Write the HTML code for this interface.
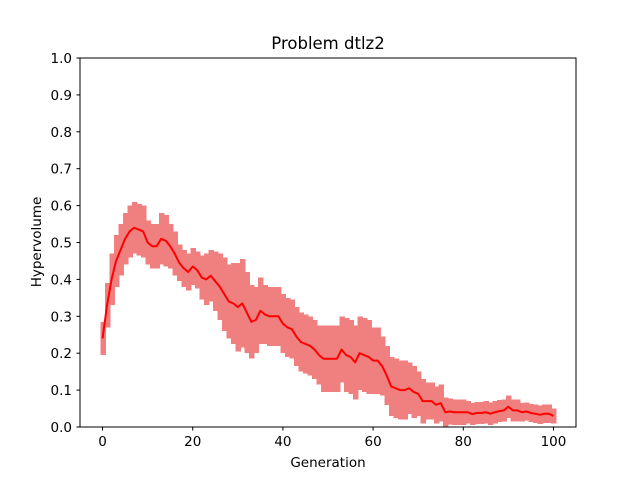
<!DOCTYPE html>
<html><head><meta charset="utf-8"><style>body{margin:0;background:#fff}svg{display:block;font-family:"DejaVu Sans",sans-serif}</style></head>
<body>
<svg id="chart" width="640" height="480" viewBox="0 0 640 480" xmlns="http://www.w3.org/2000/svg">
<rect width="640" height="480" fill="#fff"/>
<g id="bars" shape-rendering="crispEdges"></g>
<polyline id="mean" fill="none" stroke="#ff0000" stroke-width="2" stroke-linejoin="round"/>
<rect x="80" y="58" width="496" height="369" fill="none" stroke="#000" stroke-width="1"/>
<g id="xt"></g>
<g id="yt"></g>
<text x="328" y="49" font-size="16.5" text-anchor="middle">Problem dtlz2</text>
<text x="328" y="467" font-size="13.5" text-anchor="middle">Generation</text>
<text transform="translate(41,242) rotate(-90)" font-size="13.5" text-anchor="middle">Hypervolume</text>
</svg>
<script>
const meanVals=[0.24,0.33,0.40,0.45,0.48,0.51,0.53,0.54,0.535,0.53,0.50,0.49,0.49,0.51,0.505,0.49,0.47,0.445,0.43,0.42,0.435,0.425,0.405,0.40,0.41,0.395,0.38,0.36,0.34,0.335,0.325,0.335,0.31,0.285,0.29,0.315,0.305,0.30,0.30,0.30,0.28,0.27,0.265,0.245,0.23,0.225,0.22,0.21,0.195,0.185,0.185,0.185,0.185,0.21,0.195,0.19,0.175,0.20,0.195,0.19,0.18,0.18,0.165,0.14,0.11,0.105,0.10,0.10,0.105,0.095,0.09,0.07,0.07,0.07,0.06,0.065,0.04,0.042,0.04,0.04,0.04,0.04,0.035,0.038,0.038,0.04,0.036,0.04,0.043,0.045,0.055,0.045,0.045,0.04,0.042,0.038,0.036,0.033,0.036,0.036,0.03];
const errVals=[0.045,0.06,0.07,0.07,0.07,0.07,0.07,0.07,0.07,0.07,0.06,0.06,0.06,0.07,0.07,0.06,0.06,0.05,0.05,0.05,0.05,0.05,0.06,0.07,0.07,0.08,0.09,0.1,0.1,0.11,0.12,0.12,0.11,0.1,0.09,0.09,0.08,0.08,0.08,0.08,0.08,0.08,0.08,0.08,0.08,0.08,0.08,0.08,0.08,0.09,0.09,0.09,0.09,0.09,0.1,0.1,0.1,0.1,0.1,0.1,0.09,0.09,0.08,0.08,0.08,0.08,0.08,0.08,0.07,0.07,0.06,0.06,0.05,0.05,0.05,0.05,0.04,0.035,0.035,0.035,0.035,0.03,0.03,0.03,0.03,0.03,0.03,0.03,0.03,0.03,0.03,0.03,0.03,0.025,0.025,0.025,0.025,0.025,0.025,0.025,0.02];
const xTicks=[0,20,40,60,80,100];
const yTicks=[0.0,0.1,0.2,0.3,0.4,0.5,0.6,0.7,0.8,0.9,1.0];
const NS='http://www.w3.org/2000/svg';
const X=v=>80+(v+5)*496/110, Y=v=>427-v*369;
const bars=document.getElementById('bars');
const bw=496/110;
meanVals.forEach((m,i)=>{
 const r=document.createElementNS(NS,'rect');
 
 
 const lo=Math.max(0,m-errVals[i]),hi=m+errVals[i];
 r.setAttribute('x',X(i)-bw/2);r.setAttribute('width',bw+1);
 r.setAttribute('y',Y(hi));r.setAttribute('height',Y(lo)-Y(hi));
 r.setAttribute('fill','#f08080');bars.appendChild(r);
});
document.getElementById('mean').setAttribute('points',meanVals.map((m,i)=>X(i)+','+Y(m)).join(' '));
const xt=document.getElementById('xt'),yt=document.getElementById('yt');
xTicks.forEach(t=>{
 const l=document.createElementNS(NS,'line');
 
 
 l.setAttribute('x1',X(t));l.setAttribute('x2',X(t));l.setAttribute('y1',427);l.setAttribute('y2',430.5);l.setAttribute('stroke','#000');xt.appendChild(l);
 const s=document.createElementNS(NS,'text');
 
 
 s.setAttribute('x',X(t));s.setAttribute('y',446);s.setAttribute('font-size','13.5');s.setAttribute('text-anchor','middle');s.textContent=t;xt.appendChild(s);
});
yTicks.forEach(t=>{
 const l=document.createElementNS(NS,'line');
 
 
 l.setAttribute('x1',76.5);l.setAttribute('x2',80);l.setAttribute('y1',Y(t));l.setAttribute('y2',Y(t));l.setAttribute('stroke','#000');yt.appendChild(l);
 const s=document.createElementNS(NS,'text');
 
 
 s.setAttribute('x',72);s.setAttribute('y',Y(t)+5);s.setAttribute('font-size','13.5');s.setAttribute('text-anchor','end');s.textContent=t.toFixed(1);yt.appendChild(s);
});
</script>
</body></html>
